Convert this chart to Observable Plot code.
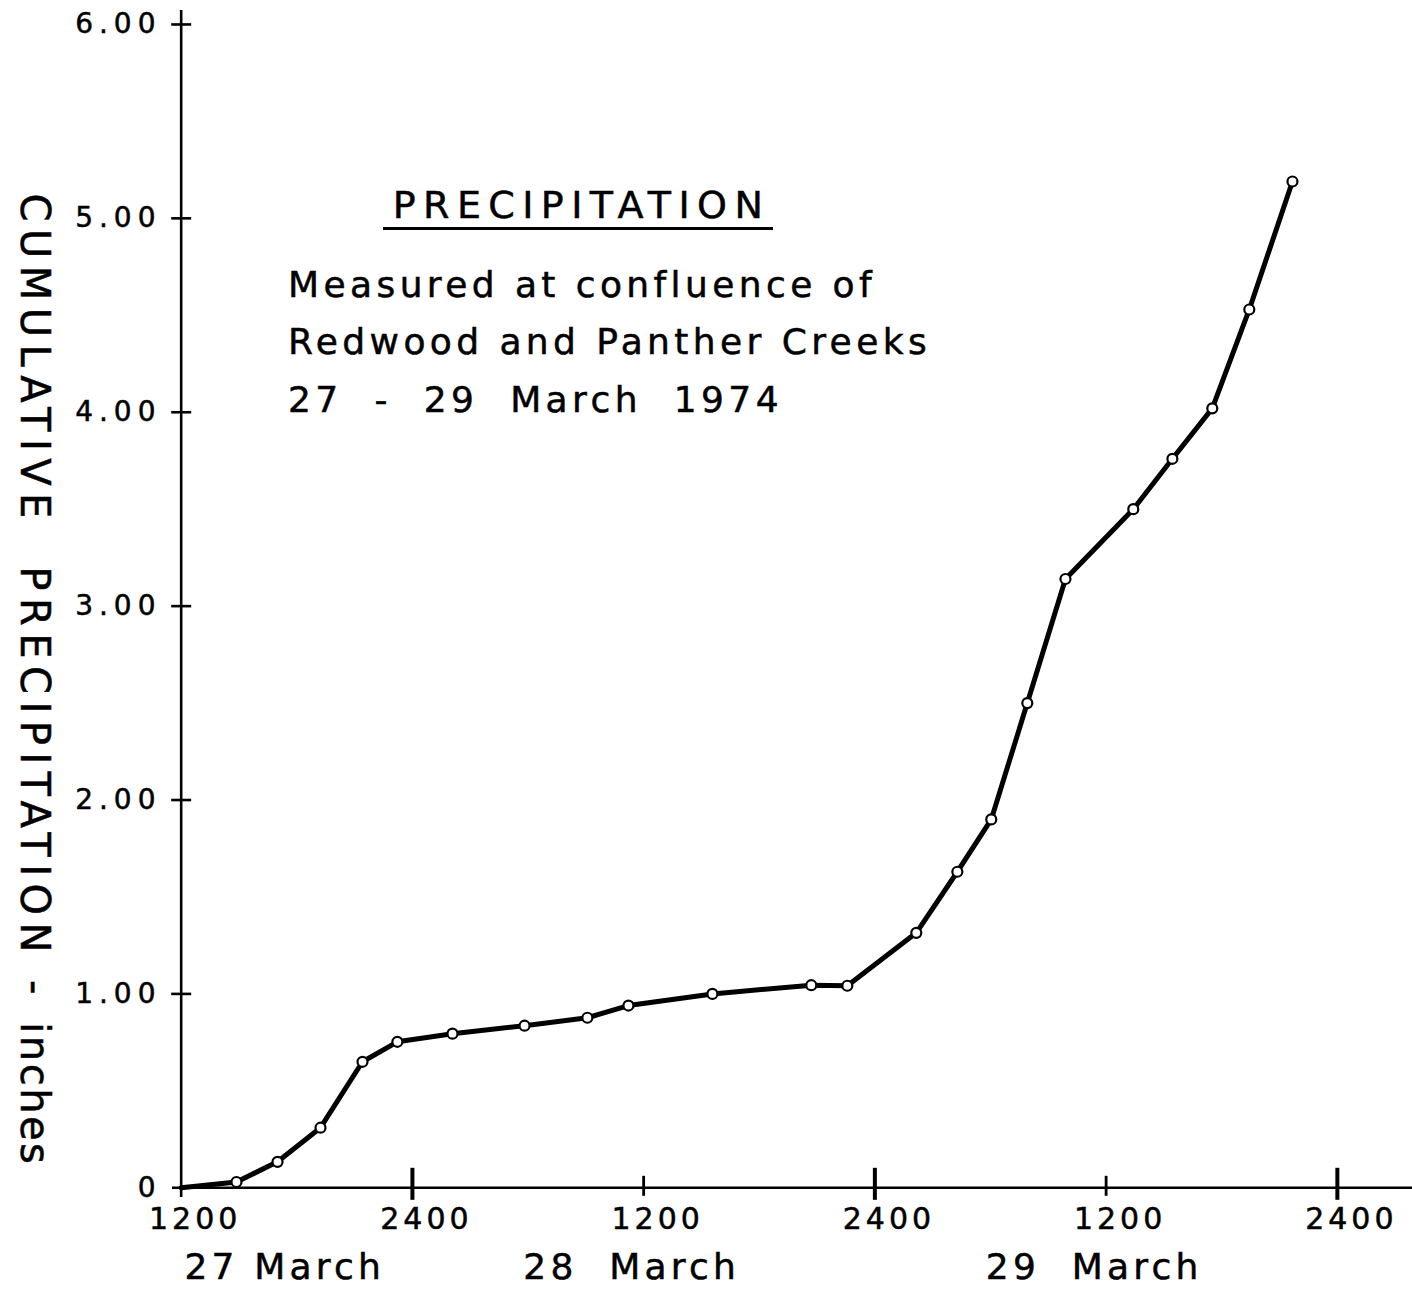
<!DOCTYPE html>
<html>
<head>
<meta charset="utf-8">
<script src="https://cdn.jsdelivr.net/npm/d3@7"></script>
<script src="https://cdn.jsdelivr.net/npm/@observablehq/plot@0.6"></script>
<style>
  body { margin: 0; background: #fff; }
  #wrap { position: relative; width: 1412px; height: 1289px; overflow: hidden; background: #fff;
          font-family: "DejaVu Sans", sans-serif; color: #000; }
  #wrap svg { position: absolute; left: 0; top: 0; }
  .ann { position: absolute; white-space: pre; line-height: 1; color: #000; -webkit-text-stroke: 0.5px #000; }
  svg g[aria-label="y-axis tick label"] text { letter-spacing: 6px; stroke: #000; stroke-width: 0.5px; }
  svg g[aria-label="x-axis tick label"] text { letter-spacing: 4px; stroke: #000; stroke-width: 0.5px; }
</style>
</head>
<body>
<div id="wrap"></div>
<script>
// hours after 1200 on 27 March 1974
const hours  = [0, 2.87, 5.0, 7.23, 9.41, 11.22, 14.08, 17.82, 21.08, 23.21, 27.57, 32.7, 34.57,
                38.15, 40.28, 42.04, 43.91, 45.89, 49.41, 51.44, 53.51, 55.43, 57.67];
// cumulative precipitation, inches
const inches = [0, 0.03, 0.134, 0.31, 0.65, 0.753, 0.795, 0.836, 0.877, 0.94, 1.0, 1.045, 1.042,
                1.315, 1.63, 1.9, 2.5, 3.14, 3.5, 3.76, 4.02, 4.53, 5.19];

const yTicks = [0, 1, 2, 3, 4, 5, 6];
const yTickLabels = ["0", "1.00", "2.00", "3.00", "4.00", "5.00", "6.00"];
const xTicks = [0, 12, 24, 36, 48, 60];
const xTickLabels = ["1200", "2400", "1200", "2400", "1200", "2400"];
const noonTicks = [24, 48];
const midnightTicks = [12, 36, 60];
const dayMid = [6, 24, 48];
const dayLabels = ["27 March", "28 March", "29 March"];

const titleText = "PRECIPITATION";
const subLines = ["Measured at confluence of", "Redwood and Panther Creeks", "27 - 29 March 1974"];
const yTitleCaps = "CUMULATIVE  PRECIPITATION - ";
const yTitleLower = "inches";

const data = hours.map((h, i) => ({h, v: inches[i]}));
const points = data.slice(1);

const vTick = (up, down) => ({draw(ctx) { ctx.moveTo(0, -up); ctx.lineTo(0, down); }});
const hTick = (l, r) => ({draw(ctx) { ctx.moveTo(-l, 0); ctx.lineTo(r, 0); }});

const chart = Plot.plot({
  width: 1412,
  height: 1289,
  marginLeft: 172,
  marginRight: 0,
  marginTop: 10,
  marginBottom: 92,
  style: {fontFamily: "DejaVu Sans", color: "#000", background: "transparent", overflow: "visible"},
  x: {domain: [-0.45, 63.9]},
  y: {domain: [-0.05, 6.072]},
  marks: [
    Plot.ruleY([0], {stroke: "#000", strokeWidth: 2.6}),
    Plot.ruleX([0], {stroke: "#000", strokeWidth: 2.6}),
    Plot.dot(yTicks.slice(1), {x: 0, y: d => d, symbol: hTick(10, 10), r: 1, fill: "none", stroke: "#000", strokeWidth: 2.6}),
    Plot.dot(noonTicks, {x: d => d, y: 0, symbol: vTick(12, 8), r: 1, fill: "none", stroke: "#000", strokeWidth: 2.8}),
    Plot.dot(midnightTicks, {x: d => d, y: 0, symbol: vTick(20, 12), r: 1, fill: "none", stroke: "#000", strokeWidth: 4}),
    Plot.axisY({ticks: yTicks, tickFormat: d => yTickLabels[yTicks.indexOf(d)], tickSize: 0, tickPadding: 11,
                fontSize: 28, label: null}),
    Plot.axisX({ticks: xTicks, tickFormat: d => xTickLabels[xTicks.indexOf(d)], tickSize: 0, tickPadding: 10,
                fontSize: 30, dx: 14, label: null}),
    Plot.line(data, {x: "h", y: "v", stroke: "#000", strokeWidth: 5, strokeLinejoin: "round", strokeLinecap: "round"}),
    Plot.dot(points, {x: "h", y: "v", r: 5, fill: "#fff", stroke: "#000", strokeWidth: 2.2}),
    Plot.text(dayLabels, {x: (d, i) => dayMid[i], text: d => d, frameAnchor: "bottom", dy: 70, dx: -12,
                          lineAnchor: "middle", fontSize: 36, fill: "#000"})
  ]
});

const wrap = document.getElementById("wrap");
wrap.appendChild(chart);

// spacing on the day labels
d3.select(chart).selectAll('g[aria-label="text"] text')
  .style("letter-spacing", "4.2px")
  .style("stroke", "#000")
  .style("stroke-width", "0.5px")
  .style("word-spacing", (d, i) => i === 0 ? "0px" : "16px");

// annotation block
function addAnn(text, opts) {
  const el = document.createElement("div");
  el.className = "ann";
  el.textContent = text;
  Object.assign(el.style, opts);
  wrap.appendChild(el);
  return el;
}
addAnn(titleText, {left: "383px", top: "186px", width: "390px", textAlign: "center", fontSize: "38px",
                   letterSpacing: "7.4px", paddingLeft: "7px", boxSizing: "border-box",
                   borderBottom: "3px solid #000", paddingBottom: "3px"});
addAnn(subLines[0], {left: "288px", top: "267px", fontSize: "36px", letterSpacing: "4.4px"});
addAnn(subLines[1], {left: "288px", top: "324px", fontSize: "36px", letterSpacing: "4.4px"});
addAnn(subLines[2], {left: "288px", top: "382px", fontSize: "36px", letterSpacing: "4.4px", wordSpacing: "16px"});

// rotated y-axis title
const yt = document.createElement("div");
yt.className = "ann";
Object.assign(yt.style, {left: "35px", top: "680px", fontSize: "40px",
  transform: "translate(-50%, -50%) rotate(90deg)"});
const s1 = document.createElement("span");
s1.textContent = yTitleCaps;
s1.style.letterSpacing = "7.5px";
const s2 = document.createElement("span");
s2.textContent = yTitleLower;
s2.style.letterSpacing = "2.5px";
yt.appendChild(s1); yt.appendChild(s2);
wrap.appendChild(yt);
</script>
</body>
</html>
